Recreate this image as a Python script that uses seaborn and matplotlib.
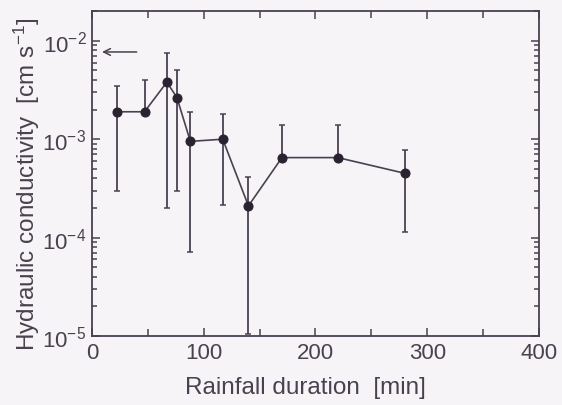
import numpy as np
import pandas as pd
import matplotlib
matplotlib.use("Agg")
import matplotlib.pyplot as plt
import seaborn as sns
from matplotlib.ticker import LogLocator, MultipleLocator

# ---- data ----
duration = [22, 47, 67, 76, 88, 117, 140, 170, 220, 280]
conductivity = [1.9e-3, 1.9e-3, 3.8e-3, 2.65e-3, 9.5e-4, 1.0e-3, 2.1e-4, 6.5e-4, 6.5e-4, 4.5e-4]
err_upper = [3.5e-3, 4.0e-3, 7.5e-3, 5.0e-3, 1.87e-3, 1.8e-3, 4.1e-4, 1.38e-3, 1.38e-3, 7.7e-4]
err_lower = [3.0e-4, 1.9e-3, 2.0e-4, 3.0e-4, 7.2e-5, 2.15e-4, 1.05e-5, 6.5e-4, 6.5e-4, 1.15e-4]
arrow_value = 7.7e-3
arrow_x = [9, 40]

xlabel = "Rainfall duration  [min]"
ylabel = "Hydraulic conductivity  [cm s$^{-1}$]"

df = pd.DataFrame({"duration": duration, "K": conductivity})

sns.set_theme(style="ticks")
plt.rcParams["font.family"] = ["Liberation Sans", "DejaVu Sans"]
plt.rcParams["mathtext.fontset"] = "custom"
plt.rcParams["mathtext.rm"] = "Liberation Sans"
plt.rcParams["mathtext.it"] = "Liberation Sans"

ink = "#4a4150"
bg = "#f6f4f6"

fig = plt.figure(figsize=(5.62, 4.06), dpi=100, facecolor=bg)
ax = fig.add_axes([0.1637, 0.170, 0.959 - 0.1637, 0.970 - 0.170])
ax.set_facecolor(bg)

K = np.array(conductivity)
yerr = np.vstack([K - np.array(err_lower), np.array(err_upper) - K])
ax.errorbar(duration, conductivity, yerr=yerr, fmt="none", ecolor=ink,
            elinewidth=1.3, capsize=2.5, capthick=1.1, zorder=2)
sns.lineplot(data=df, x="duration", y="K", ax=ax, color=ink, linewidth=1.2,
             marker="o", markersize=6.5, markeredgecolor="#2a2230",
             markerfacecolor="#2a2230", zorder=3)

ax.set_yscale("log")
ax.set_xlim(0, 400)
ax.set_ylim(1e-5, 2e-2)

ax.annotate("", xy=(arrow_x[0], arrow_value), xytext=(arrow_x[1], arrow_value),
            arrowprops=dict(arrowstyle="->", color=ink, lw=1.1,
                            shrinkA=0, shrinkB=0, mutation_scale=12))

ax.xaxis.set_major_locator(MultipleLocator(100))
ax.xaxis.set_minor_locator(MultipleLocator(50))
ax.yaxis.set_major_locator(LogLocator(base=10, numticks=10))
ax.yaxis.set_minor_locator(LogLocator(base=10, subs=np.arange(2, 10), numticks=10))
ax.tick_params(which="both", direction="in", top=True, right=True,
               colors=ink, labelcolor=ink, width=1.1)
ax.tick_params(which="major", length=6, labelsize=16, pad=4)
ax.tick_params(which="minor", length=3.5)
ax.tick_params(axis="x", which="minor", length=5)

for s in ax.spines.values():
    s.set_color(ink)
    s.set_linewidth(1.3)

ax.set_xlabel(xlabel, fontsize=17.5, color=ink, labelpad=10)
ax.xaxis.label.set_x(0.477)
ax.set_ylabel(ylabel, fontsize=17.5, color=ink, labelpad=0)
ax.yaxis.label.set_y(0.47)

fig.savefig("out.png", dpi=100, facecolor=bg)
